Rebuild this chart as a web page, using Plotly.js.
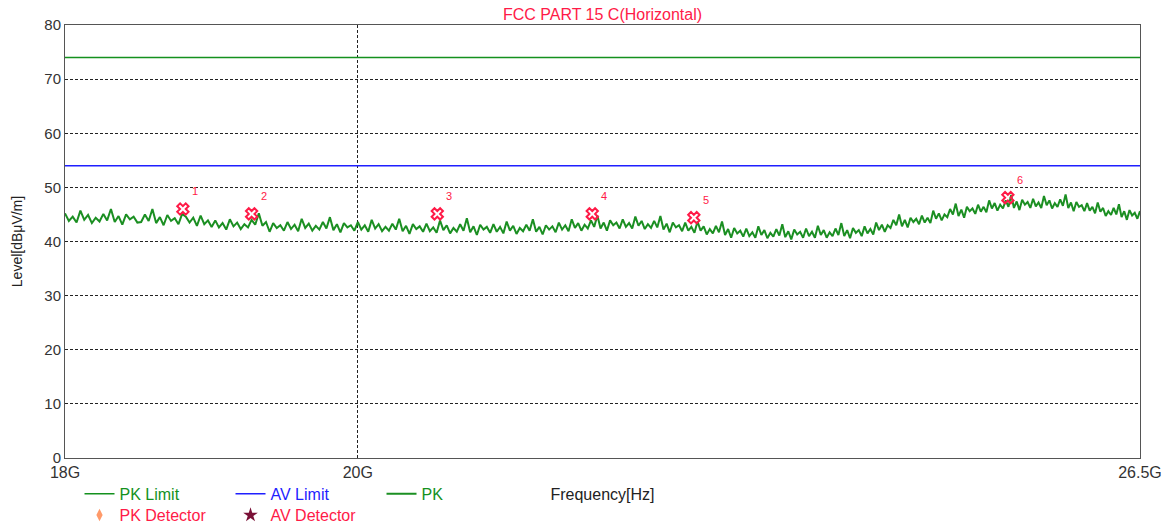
<!DOCTYPE html>
<html>
<head>
<meta charset="utf-8">
<script src="https://cdn.plot.ly/plotly-3.0.1.min.js"></script>
<style>
html,body{margin:0;padding:0;background:#fff;}
#chart{width:1169px;height:526px;}
.infolayer g.traces{opacity:1 !important;}
</style>
</head>
<body>
<div id="chart"></div>
<script>
// PK sweep: frequency in GHz and level in dBμV/m
const pkFreq = [
18.000,18.025,18.050,18.075,18.100,18.125,18.150,18.175,18.200,18.225,18.250,18.275,18.300,18.325,18.350,18.375,18.400,18.425,18.450,18.475,
18.500,18.525,18.550,18.575,18.600,18.625,18.650,18.675,18.700,18.725,18.750,18.775,18.800,18.825,18.850,18.875,18.900,18.925,18.950,18.975,
19.000,19.025,19.050,19.075,19.100,19.125,19.150,19.175,19.200,19.225,19.250,19.275,19.300,19.325,19.350,19.375,19.400,19.425,19.450,19.475,
19.500,19.525,19.550,19.575,19.600,19.625,19.650,19.675,19.700,19.725,19.750,19.775,19.800,19.825,19.850,19.875,19.900,19.925,19.950,19.975,
20.000,20.025,20.050,20.075,20.100,20.125,20.150,20.175,20.200,20.225,20.250,20.275,20.300,20.325,20.350,20.375,20.400,20.425,20.450,20.475,
20.500,20.525,20.550,20.575,20.600,20.625,20.650,20.675,20.700,20.725,20.750,20.775,20.800,20.825,20.850,20.875,20.900,20.925,20.950,20.975,
21.000,21.025,21.050,21.075,21.100,21.125,21.150,21.175,21.200,21.225,21.250,21.275,21.300,21.325,21.350,21.375,21.400,21.425,21.450,21.475,
21.500,21.525,21.550,21.575,21.600,21.625,21.650,21.675,21.700,21.725,21.750,21.775,21.800,21.825,21.850,21.875,21.900,21.925,21.950,21.975,
22.000,22.025,22.050,22.075,22.100,22.125,22.150,22.175,22.200,22.225,22.250,22.275,22.300,22.325,22.350,22.375,22.400,22.425,22.450,22.475,
22.500,22.525,22.550,22.575,22.600,22.625,22.650,22.675,22.700,22.725,22.750,22.775,22.800,22.825,22.850,22.875,22.900,22.925,22.950,22.975,
23.000,23.025,23.050,23.075,23.100,23.125,23.150,23.175,23.200,23.225,23.250,23.275,23.300,23.325,23.350,23.375,23.400,23.425,23.450,23.475,
23.500,23.525,23.550,23.575,23.600,23.625,23.650,23.675,23.700,23.725,23.750,23.775,23.800,23.825,23.850,23.875,23.900,23.925,23.950,23.975,
24.000,24.025,24.050,24.075,24.100,24.125,24.150,24.175,24.200,24.225,24.250,24.275,24.300,24.325,24.350,24.375,24.400,24.425,24.450,24.475,
24.500,24.525,24.550,24.575,24.600,24.625,24.650,24.675,24.700,24.725,24.750,24.775,24.800,24.825,24.850,24.875,24.900,24.925,24.950,24.975,
25.000,25.025,25.050,25.075,25.100,25.125,25.150,25.175,25.200,25.225,25.250,25.275,25.300,25.325,25.350,25.375,25.400,25.425,25.450,25.475,
25.500,25.525,25.550,25.575,25.600,25.625,25.650,25.675,25.700,25.725,25.750,25.775,25.800,25.825,25.850,25.875,25.900,25.925,25.950,25.975,
26.000,26.025,26.050,26.075,26.100,26.125,26.150,26.175,26.200,26.225,26.250,26.275,26.300,26.325,26.350,26.375,26.400,26.425,26.450,26.475,
26.500];
const pkLevel = [
45.2,43.8,44.6,43.5,45.7,44.0,44.9,43.4,44.4,43.7,45.1,43.9,46.0,43.6,44.7,43.1,45.0,44.1,44.6,43.5,
43.6,45.0,43.8,46.0,43.4,44.5,43.0,44.9,43.8,44.3,43.2,45.1,44.6,43.5,44.4,42.9,44.8,43.2,43.9,42.7,
43.9,42.6,43.4,42.2,44.1,42.8,43.5,42.3,43.2,42.6,44.0,43.1,45.2,42.9,43.6,41.8,43.4,42.5,43.0,42.0,
43.6,42.3,43.1,41.9,44.2,42.5,43.3,42.0,42.9,42.2,43.6,42.4,44.5,42.1,43.2,41.7,43.4,42.6,43.0,42.0,
43.6,42.2,43.0,41.8,44.0,42.4,43.2,41.9,42.7,42.0,43.3,42.2,44.2,41.9,42.9,41.4,43.2,42.3,42.8,41.8,
43.3,41.9,42.6,41.6,43.9,42.1,43.0,41.5,42.5,41.8,43.2,42.0,44.3,41.7,42.8,41.2,43.1,42.2,42.7,41.6,
43.2,41.8,42.7,41.5,43.7,42.0,42.9,41.4,42.5,41.9,43.1,42.0,44.1,41.8,42.7,41.3,43.0,42.2,42.8,41.7,
43.5,42.2,43.0,41.9,44.1,42.5,43.4,42.0,43.1,42.4,43.9,42.7,44.8,42.4,43.5,42.0,43.9,43.0,43.5,42.4,
44.1,42.7,43.4,42.4,44.6,42.9,43.8,42.3,43.2,42.5,43.8,42.6,44.7,42.2,43.3,41.7,43.5,42.6,43.0,41.9,
43.5,42.0,42.7,41.6,43.7,42.0,42.8,41.3,42.3,41.5,42.9,41.7,43.7,41.2,42.3,40.7,42.5,41.5,42.0,40.9,
42.4,41.0,41.7,40.7,42.8,41.2,42.1,40.6,41.6,40.9,42.3,41.1,43.2,40.8,41.9,40.4,42.2,41.3,41.8,40.7,
42.4,41.0,41.8,40.7,42.9,41.2,42.1,40.7,41.7,41.0,42.4,41.2,43.4,41.0,42.1,40.6,42.5,41.6,42.1,41.0,
42.8,41.5,42.3,41.3,43.5,42.1,43.1,41.8,43.0,42.5,44.0,43.0,45.0,42.8,44.0,42.6,44.4,43.6,44.2,43.2,
44.8,43.5,44.4,43.4,45.7,44.2,45.2,43.9,45.0,44.5,46.0,45.0,47.0,44.7,45.9,44.4,46.4,45.6,46.1,45.1,
46.8,45.5,46.4,45.4,47.6,46.1,47.1,45.7,46.8,46.1,47.6,46.4,48.6,46.2,47.4,45.8,47.7,46.8,47.3,46.2,
47.9,46.5,47.2,46.2,48.4,46.7,47.6,46.1,47.1,46.4,47.8,46.6,48.7,46.2,47.2,45.6,47.3,46.4,46.7,45.6,
47.1,45.7,46.4,45.2,47.2,45.5,46.2,44.7,45.6,44.9,46.2,45.0,46.9,44.5,45.6,44.0,45.8,44.8,45.3,44.2,
45.6];

const limitFreq = [18, 26.5];
const pkLimit = [74, 74];
const avLimit = [54, 54];

const markerFreq = [18.78, 19.25, 20.58, 21.76, 22.57, 25.27];
const markerLevel = [46.0, 45.1, 45.1, 45.1, 44.4, 48.1];
const markerLabels = ['1', '2', '3', '4', '5', '6'];

const xTickVals = [18, 20, 26.5];
const xTickText = ['18G', '20G', '26.5G'];
const yTickVals = [0, 10, 20, 30, 40, 50, 60, 70, 80];

const FONT = 'Arial, "Liberation Sans", sans-serif';
const GREEN = '#14911e';
const BLUE = '#1f1fff';
const RED = '#ff1a47';

const traces = [
  {x: limitFreq, y: pkLimit, type: 'scatter', mode: 'lines', name: '<span style="color:' + GREEN + '">PK Limit</span>',
   line: {color: GREEN, width: 1.5}, legend: 'legend'},
  {x: limitFreq, y: avLimit, type: 'scatter', mode: 'lines', name: '<span style="color:' + BLUE + '">AV Limit</span>',
   line: {color: BLUE, width: 1.5}, legend: 'legend'},
  {x: pkFreq, y: pkLevel, type: 'scatter', mode: 'lines', name: '<span style="color:' + GREEN + '">PK</span>',
   line: {color: '#1b8f22', width: 2}, legend: 'legend'},
  {x: markerFreq, y: markerLevel, type: 'scatter', mode: 'markers', showlegend: false,
   marker: {symbol: 'x-open', size: 10, color: RED, line: {color: RED, width: 2}}},
  {x: markerFreq, y: markerLevel, type: 'scatter', mode: 'markers', visible: 'legendonly',
   name: '<span style="color:' + RED + '">PK Detector</span>',
   marker: {symbol: 'diamond-tall', size: 9, color: '#ff9a6a'}, legend: 'legend2'},
  {x: [null], y: [null], type: 'scatter', mode: 'markers',
   name: '<span style="color:' + RED + '">AV Detector</span>',
   marker: {symbol: 'star', size: 11, color: '#7a1036'}, legend: 'legend2'}
];

const annotations = markerFreq.map((f, i) => ({
  x: Math.log10(f), y: markerLevel[i], xref: 'x', yref: 'y', text: markerLabels[i],
  showarrow: false, xshift: 12, yshift: 18, font: {family: FONT, size: 11, color: RED}
}));

const layout = {
  width: 1169, height: 526,
  margin: {l: 65, r: 29, t: 25, b: 68, autoexpand: false},
  paper_bgcolor: '#fff', plot_bgcolor: '#fff',
  font: {family: FONT, size: 16, color: '#333'},
  title: {text: 'FCC PART 15 C(Horizontal)', font: {family: FONT, size: 16, color: RED},
          x: 0.5, xref: 'paper', y: 1 - 14 / 526, yref: 'container', yanchor: 'middle'},
  xaxis: {
    type: 'log', range: [Math.log10(18), Math.log10(26.5)],
    tickmode: 'array', tickvals: xTickVals, ticktext: xTickText,
    showgrid: true, gridcolor: '#222', gridwidth: 1, griddash: '3px,2px',
    showline: true, linecolor: '#555', linewidth: 1, mirror: true,
    ticks: '', zeroline: false, tickfont: {family: FONT, size: 16, color: '#333'},
    title: {text: 'Frequency[Hz]', font: {family: FONT, size: 16, color: '#222'}, standoff: 8}
  },
  yaxis: {
    range: [0, 80], tickmode: 'array', tickvals: yTickVals,
    showgrid: true, gridcolor: '#222', gridwidth: 1, griddash: '3px,2px',
    showline: true, linecolor: '#555', linewidth: 1, mirror: true,
    ticks: '', zeroline: false, tickfont: {family: FONT, size: 15, color: '#333'},
    title: {text: 'Level[dBμV/m]', font: {family: FONT, size: 14, color: '#222'}, standoff: 18}
  },
  legend: {orientation: 'h', x: 0.0135, xanchor: 'left', y: -0.083, yanchor: 'middle',
           font: {family: FONT, size: 16}, entrywidth: 106, entrywidthmode: 'pixels',
           bgcolor: 'rgba(0,0,0,0)'},
  legend2: {orientation: 'h', x: 0.0135, xanchor: 'left', y: -0.132, yanchor: 'middle',
           font: {family: FONT, size: 16}, entrywidth: 106, entrywidthmode: 'pixels',
           bgcolor: 'rgba(0,0,0,0)'},
  annotations: annotations,
  showlegend: true
};

Plotly.newPlot('chart', traces, layout, {displayModeBar: false, staticPlot: true});
</script>
</body>
</html>
